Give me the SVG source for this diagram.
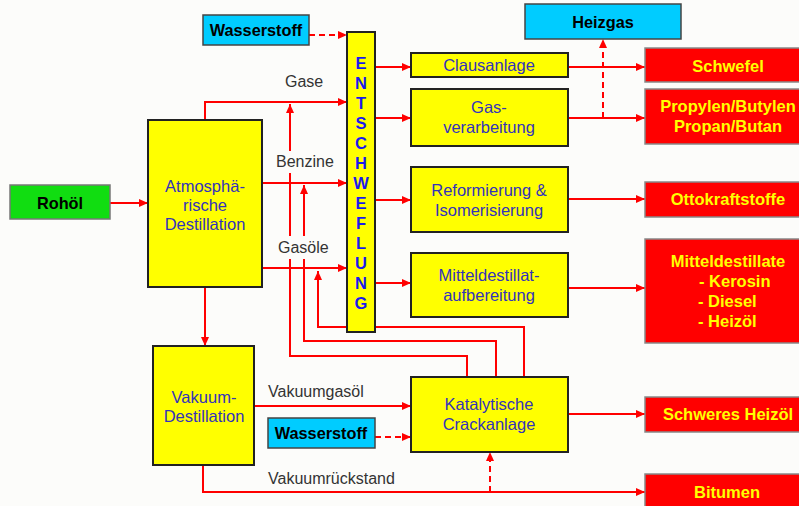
<svg xmlns="http://www.w3.org/2000/svg" width="799" height="506" viewBox="0 0 799 506">
<defs>
<marker id="ah" markerWidth="10" markerHeight="8" refX="9" refY="4" orient="auto" markerUnits="userSpaceOnUse">
<path d="M0,0 L9,4 L0,8 Z" fill="#ff0000"/>
</marker>
<style>
.ln{fill:none;stroke:#ff0000;stroke-width:2}
.da{stroke-dasharray:6,4}
.lbl{font-family:"Liberation Sans",Arial,sans-serif;font-size:16px;fill:#333333}
.yb{fill:#ffff00;stroke:#222222;stroke-width:2}
.rb{fill:#ff0000;stroke:#888888;stroke-width:1.5}
.cb{fill:#00ccff;stroke:#444444;stroke-width:1.5}
.gb{fill:#11dd11;stroke:#777777;stroke-width:1.5}
.bt{font-family:"Liberation Sans",Arial,sans-serif;font-size:16.5px;fill:#3333bb;text-anchor:middle}
.rt{font-family:"Liberation Sans",Arial,sans-serif;font-size:16.5px;font-weight:bold;fill:#ffff00;text-anchor:middle}
.kt{font-family:"Liberation Sans",Arial,sans-serif;font-size:16.3px;font-weight:bold;fill:#000000;text-anchor:middle}
.et{font-family:"Liberation Sans",Arial,sans-serif;font-size:16.5px;font-weight:bold;fill:#1a1aee;text-anchor:middle}
</style>
</defs>
<rect x="0" y="0" width="799" height="506" fill="#fcfcfa"/>
<g id="connectors">
<path class="ln" d="M110,203 H148" marker-end="url(#ah)"/>
<path class="ln" d="M205,120 V102 H347" marker-end="url(#ah)"/>
<path class="ln" d="M262,183 H347" marker-end="url(#ah)"/>
<path class="ln" d="M262,268 H347" marker-end="url(#ah)"/>
<path class="ln" d="M205,287 V346" marker-end="url(#ah)"/>
<path class="ln" d="M524,377 V327 H318 V271" marker-end="url(#ah)"/>
<path class="ln" d="M496,377 V341 H304 V185" marker-end="url(#ah)"/>
<path class="ln" d="M467,377 V356 H290 V104" marker-end="url(#ah)"/>
<path class="ln" d="M375,67 H411" marker-end="url(#ah)"/>
<path class="ln" d="M375,118 H411" marker-end="url(#ah)"/>
<path class="ln" d="M375,200 H411" marker-end="url(#ah)"/>
<path class="ln" d="M375,283 H411" marker-end="url(#ah)"/>
<path class="ln" d="M568,67 H645" marker-end="url(#ah)"/>
<path class="ln" d="M568,118 H645" marker-end="url(#ah)"/>
<path class="ln da" d="M603,118 V39" marker-end="url(#ah)"/>
<path class="ln" d="M568,199 H645" marker-end="url(#ah)"/>
<path class="ln" d="M568,288 H645" marker-end="url(#ah)"/>
<path class="ln" d="M254,406 H411" marker-end="url(#ah)"/>
<path class="ln da" d="M375,437 H411" marker-end="url(#ah)"/>
<path class="ln" d="M203,465 V492 H645" marker-end="url(#ah)"/>
<path class="ln da" d="M490,492 V452" marker-end="url(#ah)"/>
<path class="ln" d="M568,414 H645" marker-end="url(#ah)"/>
<path class="ln da" d="M309,35 H347" marker-end="url(#ah)"/>
<rect x="272" y="151" width="65" height="22" fill="#fcfcfa"/>
<rect x="275" y="236" width="60" height="23" fill="#fcfcfa"/>
<text class="lbl" x="285" y="87">Gase</text>
<text class="lbl" x="276" y="167">Benzine</text>
<text class="lbl" x="278" y="253">Gasöle</text>
<text class="lbl" x="268" y="397">Vakuumgasöl</text>
<text class="lbl" x="268" y="484">Vakuumrückstand</text>
</g>
<g id="rohoel"><rect class="gb" x="10" y="185" width="100" height="34"/><text class="kt" x="60" y="209">Rohöl</text></g>
<g id="atmos"><rect class="yb" x="148" y="120" width="114" height="167"/>
<text class="bt" x="205" y="192">Atmosphä-</text><text class="bt" x="205" y="211">rische</text><text class="bt" x="205" y="230">Destillation</text></g>
<g id="vakuum"><rect class="yb" x="153" y="346" width="101" height="119"/>
<text class="bt" x="204" y="403">Vakuum-</text><text class="bt" x="204" y="422">Destillation</text></g>
<g id="wasserstoff1"><rect class="cb" x="203" y="15" width="106" height="30"/><text class="kt" x="256" y="36">Wasserstoff</text></g>
<g id="wasserstoff2"><rect class="cb" x="268" y="418" width="107" height="30"/><text class="kt" x="321" y="439">Wasserstoff</text></g>
<g id="heizgas"><rect class="cb" x="525" y="4" width="156" height="35"/><text class="kt" x="603" y="28">Heizgas</text></g>
<g id="entschwefelung"><rect class="yb" x="347" y="32" width="28" height="300"/>
<text class="et" x="361" y="69">E</text><text class="et" x="361" y="89">N</text><text class="et" x="361" y="109">T</text><text class="et" x="361" y="129">S</text><text class="et" x="361" y="149">C</text><text class="et" x="361" y="169">H</text><text class="et" x="361" y="189">W</text><text class="et" x="361" y="209">E</text><text class="et" x="361" y="229">F</text><text class="et" x="361" y="249">L</text><text class="et" x="361" y="269">U</text><text class="et" x="361" y="289">N</text><text class="et" x="361" y="309">G</text></g>
<g id="claus"><rect class="yb" x="411" y="53" width="157" height="24"/><text class="bt" x="489" y="71">Clausanlage</text></g>
<g id="gasverarbeitung"><rect class="yb" x="411" y="89" width="157" height="57"/><text class="bt" x="489" y="113">Gas-</text><text class="bt" x="489" y="133">verarbeitung</text></g>
<g id="reformierung"><rect class="yb" x="411" y="167" width="157" height="65"/><text class="bt" x="489" y="196">Reformierung &amp;</text><text class="bt" x="489" y="216">Isomerisierung</text></g>
<g id="mitteldestillat"><rect class="yb" x="411" y="253" width="157" height="64"/><text class="bt" x="489" y="281">Mitteldestillat-</text><text class="bt" x="489" y="301">aufbereitung</text></g>
<g id="katalytische"><rect class="yb" x="411" y="377" width="157" height="75"/><text class="bt" x="489" y="410">Katalytische</text><text class="bt" x="489" y="430">Crackanlage</text></g>
<g id="schwefel"><rect class="rb" x="645" y="48" width="160" height="34"/><text class="rt" x="728" y="72">Schwefel</text></g>
<g id="propylen"><rect class="rb" x="645" y="89" width="160" height="55"/><text class="rt" x="728" y="112">Propylen/Butylen</text><text class="rt" x="728" y="132">Propan/Butan</text></g>
<g id="otto"><rect class="rb" x="645" y="182" width="160" height="35"/><text class="rt" x="728" y="205">Ottokraftstoffe</text></g>
<g id="mitteldestillate"><rect class="rb" x="645" y="239" width="160" height="104"/><text class="rt" x="728" y="267">Mitteldestillate</text>
<text class="rt" x="699" y="287" style="text-anchor:start">- Kerosin</text><text class="rt" x="698" y="307" style="text-anchor:start">- Diesel</text><text class="rt" x="698" y="327" style="text-anchor:start">- Heizöl</text></g>
<g id="schweresheizoel"><rect class="rb" x="645" y="397" width="160" height="35"/><text class="rt" x="728" y="420">Schweres Heizöl</text></g>
<g id="bitumen"><rect class="rb" x="645" y="474" width="160" height="40"/><text class="rt" x="727" y="498">Bitumen</text></g>
</svg>
